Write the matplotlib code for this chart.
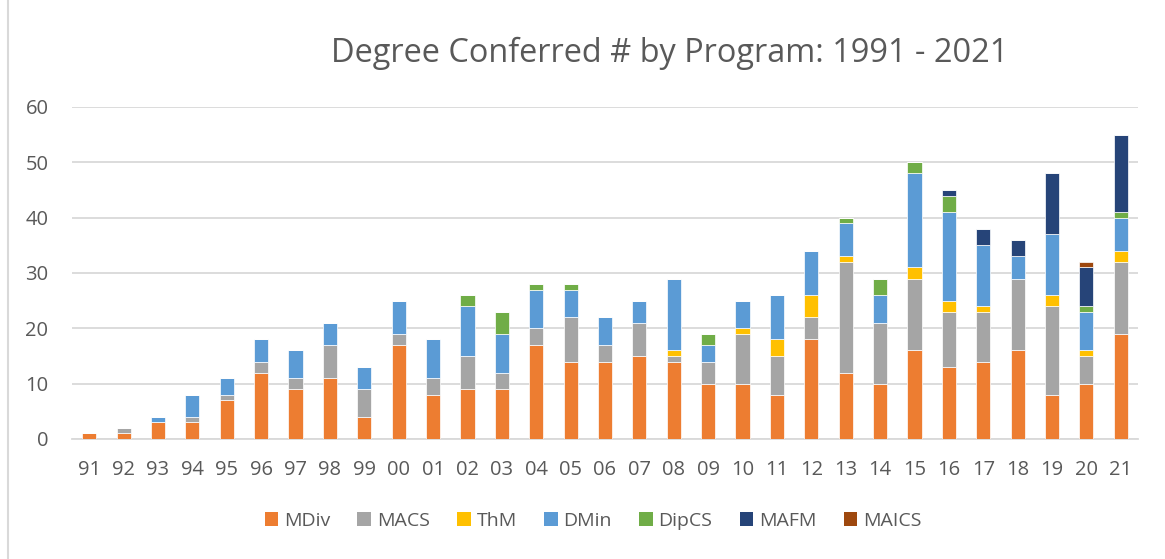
import matplotlib.pyplot as plt
from matplotlib.patches import Patch
from matplotlib.lines import Line2D
import numpy as np

plt.rcParams["font.family"] = ["Open Sans", "DejaVu Sans"]

years = ["91", "92", "93", "94", "95", "96", "97", "98", "99", "00",
         "01", "02", "03", "04", "05", "06", "07", "08", "09", "10",
         "11", "12", "13", "14", "15", "16", "17", "18", "19", "20", "21"]

mdiv = [1, 1, 3, 3, 7, 12, 9, 11, 4, 17,
        8, 9, 9, 17, 14, 14, 15, 14, 10, 10,
        8, 18, 12, 10, 16, 13, 14, 16, 8, 10, 19]
macs = [0, 1, 0, 1, 1, 2, 2, 6, 5, 2,
        3, 6, 3, 3, 8, 3, 6, 1, 4, 9,
        7, 4, 20, 11, 13, 10, 9, 13, 16, 5, 13]
thm = [0, 0, 0, 0, 0, 0, 0, 0, 0, 0,
       0, 0, 0, 0, 0, 0, 0, 1, 0, 1,
       3, 4, 1, 0, 2, 2, 1, 0, 2, 1, 2]
dmin = [0, 0, 1, 4, 3, 4, 5, 4, 4, 6,
        7, 9, 7, 7, 5, 5, 4, 13, 3, 5,
        8, 8, 6, 5, 17, 16, 11, 4, 11, 7, 6]
dipcs = [0, 0, 0, 0, 0, 0, 0, 0, 0, 0,
         0, 2, 4, 1, 1, 0, 0, 0, 2, 0,
         0, 0, 1, 3, 2, 3, 0, 0, 0, 1, 1]
mafm = [0, 0, 0, 0, 0, 0, 0, 0, 0, 0,
        0, 0, 0, 0, 0, 0, 0, 0, 0, 0,
        0, 0, 0, 0, 0, 1, 3, 3, 11, 7, 14]
maics = [0, 0, 0, 0, 0, 0, 0, 0, 0, 0,
         0, 0, 0, 0, 0, 0, 0, 0, 0, 0,
         0, 0, 0, 0, 0, 0, 0, 0, 0, 1, 0]

series = [
    ("MDiv", mdiv, "#ED7D31"),
    ("MACS", macs, "#A5A5A5"),
    ("ThM", thm, "#FFC000"),
    ("DMin", dmin, "#5B9BD5"),
    ("DipCS", dipcs, "#70AD47"),
    ("MAFM", mafm, "#264478"),
    ("MAICS", maics, "#9E480E"),
]

text_color = "#595959"
grid_color = "#D9D9D9"

fig = plt.figure(figsize=(11.65, 5.59), dpi=100)
ax = fig.add_axes([72 / 1165, 1 - 439 / 559, (1138 - 72) / 1165, (439 - 107) / 559])

x = np.arange(len(years))
bottom = np.zeros(len(years))
for name, vals, color in series:
    vals = np.array(vals, dtype=float)
    ax.bar(x, vals, width=0.41, bottom=bottom, color=color,
           edgecolor="white", linewidth=0.5, zorder=3)
    bottom += vals

ax.set_xlim(-0.5, len(years) - 0.5)
ax.set_ylim(0, 60)
ax.set_yticks(range(0, 61, 10))
ax.set_xticks(x)
ax.set_xticklabels(years)
ax.yaxis.grid(True, color=grid_color, linewidth=1.3, zorder=0)
ax.set_axisbelow(True)
for side in ["top", "right", "left"]:
    ax.spines[side].set_visible(False)
ax.spines["bottom"].set_color(grid_color)
ax.spines["bottom"].set_linewidth(1.3)
ax.tick_params(axis="both", length=0, labelsize=14.5, colors=text_color)
ax.tick_params(axis="y", pad=17)
ax.tick_params(axis="x", pad=15)

fig.text(670 / 1165, 1 - 53 / 559, "Degree Conferred # by Program: 1991 - 2021",
         ha="center", va="center", fontsize=23.4, color=text_color)

handles = [Patch(facecolor=c, edgecolor="none", label=n) for n, _, c in series]
fig.legend(handles=handles, loc="center", bbox_to_anchor=(593 / 1165, 1 - 521 / 559),
           ncol=7, frameon=False, fontsize=14, labelcolor=text_color,
           handlelength=0.7, handleheight=0.7, handletextpad=0.3, columnspacing=1.4)

# thin frame line on the left edge, as in the source image
fig.add_artist(Line2D([8 / 1165, 8 / 1165], [0, 1], transform=fig.transFigure,
                      color=grid_color, linewidth=1.5))

fig.savefig("out.png", dpi=100, facecolor="white")
